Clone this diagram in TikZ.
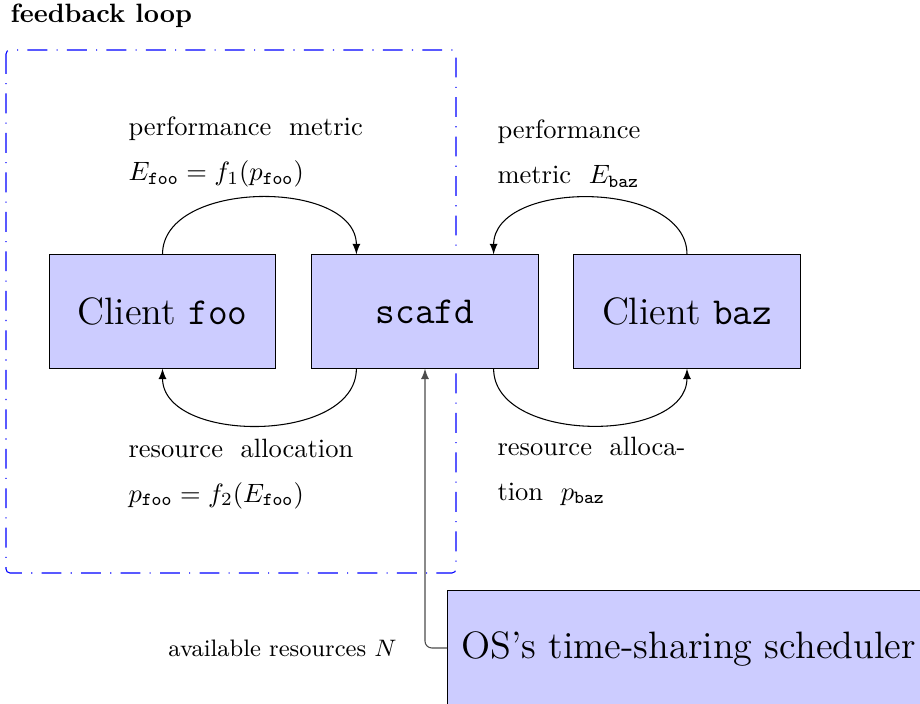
\documentclass[tikz,border=0pt]{standalone}
\usetikzlibrary{calc}
\begin{document}
\begin{tikzpicture}[x=0.3774pt,y=-0.3774pt,
  blk/.style={draw=black, fill=blue!20, font=\Large, minimum width=3cm, minimum height=1.5cm, inner sep=0pt},
  lbl/.style={anchor=north west, inner sep=0pt, align=left},
  arr/.style={-latex, black}]
\useasboundingbox (0,0) rectangle (920,704);
\node[anchor=base west, inner sep=0pt, font=\bfseries] (title) at (10,23) {feedback loop};
\draw[blue, dash pattern=on 7.5pt off 3.5pt on 0.4pt off 3.5pt, rounded corners=1.5pt] (6,50) rectangle (456,573);
\node[blk] (foo) at (162.5,311.5) {Client \texttt{foo}};
\node[blk] (scafd) at (425,311.5) {\texttt{scafd}};
\node[blk] (baz) at (687,311.5) {Client \texttt{baz}};
\node[blk, anchor=north west, inner xsep=5pt, minimum width=482*0.3774pt, minimum height=124*0.3774pt, text depth=6pt] (os) at (447,590) {OS's time-sharing scheduler};
\draw[arr] (foo.north) to[out=90,in=90] ($(scafd.north west)+(45,0)$);
\draw[arr] ($(scafd.south west)+(45,0)$) to[out=-90,in=-90] (foo.south);
\draw[arr] (baz.north) to[out=90,in=90] ($(scafd.north east)+(-45,0)$);
\draw[arr] ($(scafd.south east)+(-45,0)$) to[out=-90,in=-90] (baz.south);
\draw[-latex, black!70, rounded corners=2.6pt] (os.west |- 0,648) -| (scafd.south);
\node[anchor=east, font=\small] (avail) at (406,648) {available resources $N$};
\node[lbl] (pm1) at (128,116.6) {performance\ \ metric\\[4.8pt]$E_{\mathtt{foo}} = f_1(p_{\mathtt{foo}})$};
\node[lbl] (pm2) at (497,119.6) {performance\\[4.8pt]metric\ \ $E_{\mathtt{baz}}$};
\node[lbl] (ra1) at (128,438.6) {resource\ \ allocation\\[4.8pt]$p_{\mathtt{foo}} = f_2(E_{\mathtt{foo}})$};
\node[lbl] (ra2) at (497,436.6) {resource\ \ alloca-\\[4.8pt]tion\ \ $p_{\mathtt{baz}}$};
\end{tikzpicture}
\end{document}
